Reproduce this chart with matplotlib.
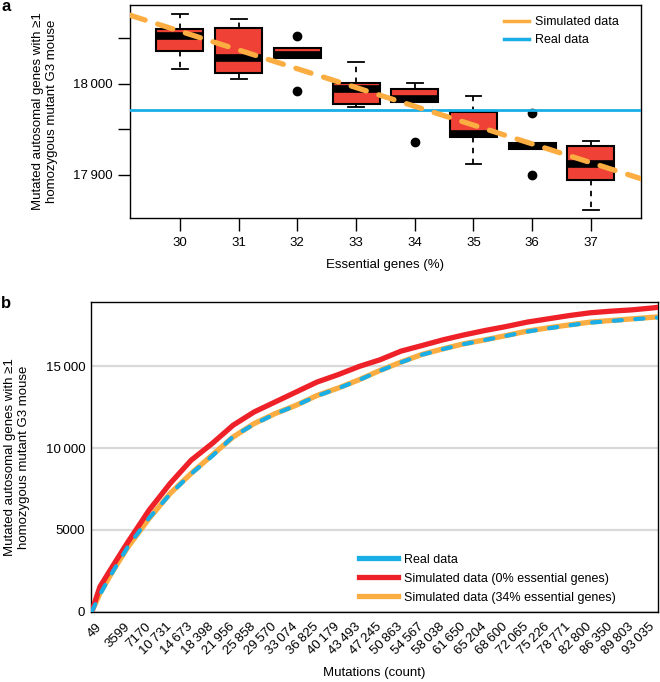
import numpy as np
import matplotlib
matplotlib.use("Agg")
import matplotlib.pyplot as plt
from matplotlib.lines import Line2D

plt.rcParams['font.family'] = ['Liberation Sans', 'DejaVu Sans']
plt.rcParams['font.size'] = 9

# ---------------- Data: panel a ----------------
ess_pct = [30, 31, 32, 33, 34, 35, 36, 37]
box_med = [18053, 18028.5, 18032, 17994, 17983.5, 17944.5, 17932, 17912.5]
box_q1 = [18036.5, 18012.5, 18028.5, 17978, 17980, 17941.5, 17928.5, 17894]
box_q3 = [18060.5, 18061, 18039, 18000.5, 17994, 17969, 17935.5, 17932]
box_whislo = [18016.5, 18005, 18028.5, 17974.5, 17980, 17912.5, 17928.5, 17861]
box_whishi = [18077, 18071.5, 18039, 18024, 18000.5, 17987, 17935.5, 17937.5]
box_fliers = [[], [], [18053, 17992.5], [], [17936.5], [], [17968, 17899.5], []]
real_total = 17971
sim_trend_pct = [30, 37]
sim_trend_val = [18058, 17913.5]

# ---------------- Data: panel b ----------------
mut_labels = [49, 3599, 7170, 10731, 14673, 18398, 21956, 25858, 29570, 33074,
              36825, 40179, 43493, 47245, 50863, 54567, 58038, 61650, 65204,
              68600, 72065, 75226, 78771, 82800, 86350, 89803, 93035]
sample_idx = [-0.73, -0.34, 0.3, 1, 2, 3, 4, 5, 6, 7, 8, 9, 10, 11, 12, 13, 14,
              15, 16, 17, 18, 19, 20, 21, 22, 23, 24, 25, 26, 26.25]
sim34 = [0, 1120, 2540, 3960, 5690, 7220, 8440, 9560, 10670, 11490, 12100, 12610,
         13210, 13660, 14170, 14740, 15250, 15720, 16060, 16370, 16610, 16870,
         17140, 17340, 17520, 17690, 17790, 17890, 17990, 18010]
sim0 = [0, 1525, 2850, 4270, 6200, 7830, 9250, 10270, 11390, 12200, 12810, 13420,
        14030, 14480, 14980, 15390, 15920, 16260, 16610, 16910, 17180, 17420,
        17690, 17890, 18090, 18260, 18360, 18440, 18560, 18600]
real = [0, 1050, 2500, 3990, 5720, 7180, 8420, 9500, 10700, 11450, 12080, 12600,
        13180, 13640, 14150, 14720, 15230, 15700, 16040, 16350, 16600, 16850,
        17110, 17310, 17490, 17660, 17760, 17860, 17950, 17971]

ORANGE = '#FBAD41'
BLUE = '#1AAEE6'
RED = '#EE2028'
BOXRED = '#EF4136'
GRID = '#D9D9D9'

def fmt(v):
    s = str(v)
    if len(s) >= 5:
        s = s[:-3] + '\u2009' + s[-3:]
    return s

fig = plt.figure(figsize=(6.6, 6.82), dpi=100)

# ---------------- Panel a ----------------
ax1 = fig.add_axes([0.197, 0.6804, 0.7738, 0.3123])
stats = []
for i in range(len(ess_pct)):
    stats.append(dict(med=box_med[i], q1=box_q1[i], q3=box_q3[i],
                      whislo=box_whislo[i], whishi=box_whishi[i],
                      fliers=box_fliers[i]))
ax1.bxp(stats, positions=ess_pct, widths=0.8, patch_artist=True,
        boxprops=dict(facecolor=BOXRED, edgecolor='black', linewidth=1.5),
        medianprops=dict(color='black', linewidth=5.5, solid_capstyle='butt'),
        whiskerprops=dict(color='black', linewidth=1.3, linestyle=(0, (3, 3))),
        capprops=dict(color='black', linewidth=1.3),
        flierprops=dict(marker='o', markerfacecolor='black', markeredgecolor='black',
                        markersize=6),
        capwidths=0.27, manage_ticks=False, zorder=2)
ax1.axhline(real_total, color=BLUE, lw=2.0, zorder=3)
ax1.axline((sim_trend_pct[0], sim_trend_val[0]), (sim_trend_pct[1], sim_trend_val[1]),
           color=ORANGE, lw=3.8, linestyle=(0, (3.0, 2.5)), dash_capstyle='round',
           zorder=4)
ax1.set_xlim(29.15, 37.85)
ax1.set_ylim(17852.7, 18086.8)
ax1.set_xticks(ess_pct)
ax1.set_xticklabels([str(p) for p in ess_pct])
ax1.set_yticks([17900, 17950, 18000, 18050])
ax1.set_yticklabels([fmt(17900), '', fmt(18000), ''])
ax1.tick_params(axis='both', direction='out', length=9, width=1, labelsize=9.5)
ax1.tick_params(axis='y', pad=3.5)
ax1.tick_params(axis='x', pad=4.5)
for sp in ax1.spines.values():
    sp.set_linewidth(1)
leg1 = ax1.legend(handles=[Line2D([], [], color=ORANGE, lw=2.5),
                           Line2D([], [], color=BLUE, lw=2.5)],
                  labels=['Simulated data', 'Real data'], loc='upper right',
                  frameon=False, fontsize=9, handlelength=2.0, handletextpad=0.5,
                  bbox_to_anchor=(0.98, 1.0), labelspacing=0.5)

fig.text(385 / 660, 1 - 265 / 682, 'Essential genes (%)', ha='center', va='center',
         fontsize=9.5)
fig.text(45 / 660, 1 - 111.5 / 682,
         'Mutated autosomal genes with \u22651\nhomozygous mutant G3 mouse',
         ha='center', va='center', rotation=90, fontsize=9.5, linespacing=1.25)

# ---------------- Panel b ----------------
ax2 = fig.add_axes([0.1374, 0.1031, 0.86, 0.4536])
ax2.set_axisbelow(True)
ax2.grid(axis='y', color=GRID, lw=1.6)
ax2.plot(sample_idx, sim34, color=ORANGE, lw=3.8, solid_capstyle='butt', zorder=3)
ax2.plot(sample_idx, sim0, color=RED, lw=3.8, solid_capstyle='butt', zorder=4)
ax2.plot(sample_idx, real, color=BLUE, lw=3.0, linestyle=(0, (2.0, 3.2)),
         dash_capstyle='round', zorder=5)
ax2.set_xlim(-0.78, 26.25)
ax2.set_ylim(0, 18900)
tick_pos = np.r_[-0.34, np.arange(1, len(mut_labels))]
ax2.set_xticks(tick_pos)
ax2.set_xticklabels([fmt(v) for v in mut_labels], rotation=45, ha='right',
                    va='center', rotation_mode='anchor')
ax2.set_yticks([0, 5000, 10000, 15000])
ax2.set_yticklabels(['0', '5000', fmt(10000), fmt(15000)])
ax2.tick_params(axis='both', length=0, labelsize=9.5)
ax2.tick_params(axis='x', pad=9.6)
ax2.tick_params(axis='y', pad=4)
for sp in ax2.spines.values():
    sp.set_linewidth(1)
leg2 = ax2.legend(handles=[Line2D([], [], color=BLUE, lw=3.8),
                           Line2D([], [], color=RED, lw=3.8),
                           Line2D([], [], color=ORANGE, lw=3.8)],
                  labels=['Real data', 'Simulated data (0% essential genes)',
                          'Simulated data (34% essential genes)'],
                  loc='lower right', frameon=False, fontsize=9,
                  handlelength=3.1, handletextpad=0.5, labelspacing=0.55,
                  bbox_to_anchor=(0.945, -0.01))

fig.text(374.5 / 660, 1 - 673 / 682, 'Mutations (count)', ha='center', va='center',
         fontsize=9.5)
fig.text(16.7 / 660, 1 - 457 / 682,
         'Mutated autosomal genes with \u22651\nhomozygous mutant G3 mouse',
         ha='center', va='center', rotation=90, fontsize=9.5, linespacing=1.25)

fig.text(0.002, 1 - 11 / 682, 'a', fontsize=12, fontweight='bold', va='baseline')
fig.text(0.002, 1 - 308 / 682, 'b', fontsize=12, fontweight='bold', va='baseline')

fig.savefig('out.png', dpi=100)
